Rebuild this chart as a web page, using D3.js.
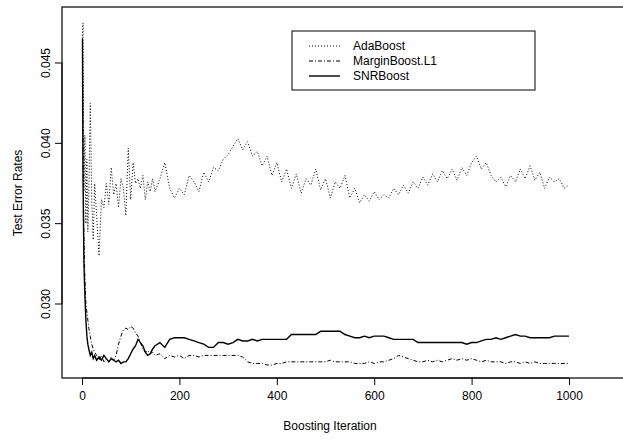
<!DOCTYPE html>
<html><head><meta charset="utf-8">
<script src="https://cdn.jsdelivr.net/npm/d3@7"></script>
<style>body{margin:0;background:#fff}text{font-family:"Liberation Sans",Arial,sans-serif}</style>
</head><body>
<svg id="chart" width="623" height="441"></svg>
<script>
var iters = [1,2,4,6,8,10,12,14,17,20,23,26,30]
  .concat(d3.range(35, 151, 5))
  .concat(d3.range(160, 1001, 10));

var adaboost = [0.0465,0.0475,0.037,0.0405,0.035,0.039,0.0345,0.037,0.0425,0.0365,0.034,0.0375,0.0355,
  0.033,0.0365,0.036,0.0375,0.0362,0.0385,0.0368,0.0375,0.0360,0.0378,0.0372,0.0355,0.0397,0.0365,0.0388,0.0375,0.0378,0.0372,0.0380,0.0365,0.0376,0.0370,0.0378,0.0370,
  0.0378,0.0388,0.0372,0.0366,0.0372,0.0368,0.0380,0.0376,0.0370,0.0382,0.0376,0.0385,0.0383,0.0390,0.0393,0.0398,0.0403,0.0396,0.0401,0.0392,
  0.0395,0.0386,0.0392,0.0380,0.0388,0.0376,0.0384,0.0372,0.0381,0.0369,0.0378,0.0374,0.0384,0.0371,0.0378,0.0366,0.0376,0.0372,0.0380,0.0366,
  0.0372,0.0363,0.0368,0.0364,0.0370,0.0365,0.0368,0.0366,0.0372,0.0368,0.0374,0.0369,0.0376,0.0372,0.0379,0.0374,0.0381,0.0376,0.0383,0.0378,
  0.0384,0.0377,0.0385,0.0380,0.0388,0.0392,0.0384,0.0388,0.0380,0.0376,0.0379,0.0373,0.0380,0.0376,0.0384,0.0378,0.0386,0.0377,0.0382,0.0372,
  0.0379,0.0376,0.0378,0.0372,0.0374];

var marginboost = [0.0465,0.040,0.034,0.0315,0.030,0.0295,0.029,0.0285,0.0280,0.0275,0.0272,0.0270,0.0268,
  0.0265,0.0268,0.0264,0.0266,0.0264,0.0267,0.0265,0.0268,0.0275,0.0280,0.0284,0.0285,0.0284,0.0286,0.0285,0.0282,0.0280,0.0276,0.0272,0.0270,0.0271,0.0269,0.0270,0.0268,
  0.0269,0.0266,0.0268,0.0267,0.0268,0.0266,0.0268,
  0.0268,0.0267,0.0268,0.0268,0.0268,0.0268,0.0268,0.0268,0.0268,0.0268,0.0267,
  0.0264,
  0.0263,0.0263,0.0263,0.0262,0.0262,0.0263,0.0263,0.0264,0.0264,0.0264,0.0264,0.0264,0.0264,0.0264,0.0264,0.0264,0.0265,0.0264,0.0264,0.0264,0.0264,0.0263,0.0263,0.0263,0.0264,0.0263,0.0264,0.0264,0.0265,
  0.0266,0.0268,0.0267,0.0266,0.0265,0.0264,0.0264,0.0265,0.0264,0.0265,0.0264,0.0265,0.0266,0.0265,0.0266,0.0265,0.0266,0.0265,0.0264,0.0265,0.0264,0.0264,0.0264,0.0263,0.0264,0.0264,0.0263,0.0264,0.0263,0.0264,0.0263,
  0.0263,0.0263,0.0263,0.0263,0.0263,0.0263];

var snrboost = [0.0465,0.038,0.0325,0.0305,0.029,0.0280,0.0275,0.0272,0.0268,0.0270,0.0266,0.0268,0.0265,
  0.0267,0.0265,0.0268,0.0266,0.0264,0.0266,0.0265,0.0264,0.0265,0.0263,0.0264,0.0264,0.0266,0.0269,0.0272,0.0274,0.0278,0.0276,0.0274,0.0270,0.0268,0.0269,0.0272,0.0274,
  0.0276,0.0273,0.0278,0.0279,0.0279,0.0279,0.0278,0.0277,0.0276,0.0275,0.0273,0.0273,0.0276,0.0276,0.0275,0.0276,0.0278,0.0277,0.0277,0.0278,
  0.0277,0.0278,0.0278,0.0278,0.0278,0.0278,0.0278,0.0281,0.0281,0.0281,0.0281,0.0281,0.0281,0.0283,0.0283,0.0283,0.0283,0.0283,0.0281,0.0280,
  0.0279,0.0279,0.0280,0.0279,0.0280,0.0280,0.0280,0.0279,0.0278,0.0278,0.0278,0.0278,0.0278,0.0276,0.0276,0.0276,0.0276,0.0276,0.0276,0.0276,
  0.0276,0.0276,0.0276,0.0275,0.0276,0.0276,0.0277,0.0278,0.0278,0.0279,0.0278,0.0279,0.0280,0.0281,0.0280,0.0280,0.0279,0.0279,0.0279,0.0279,
  0.0279,0.0280,0.0280,0.0280,0.0280];

var xTicks = [0,200,400,600,800,1000];
var yTicks = [0.030,0.035,0.040,0.045];

var series = [
  {name: "AdaBoost", values: adaboost, dash: "1,2", width: 1},
  {name: "MarginBoost.L1", values: marginboost, dash: "4,2,1,2", width: 1},
  {name: "SNRBoost", values: snrboost, dash: null, width: 1.4}
];

var svg = d3.select("#chart");
var x = d3.scaleLinear().domain([0, 1000]).range([82, 569]);
var y = d3.scaleLinear().domain([0.030, 0.045]).range([304, 63]);

// plot frame
svg.append("rect").attr("x", 62).attr("y", 7).attr("width", 570).attr("height", 371)
  .attr("fill", "none").attr("stroke", "#000").attr("stroke-width", 1.2);

var xa = svg.append("g").attr("transform", "translate(0,378)")
  .call(d3.axisBottom(x).tickValues(xTicks).tickSize(7).tickPadding(6).tickFormat(d3.format("d")));
xa.select(".domain").attr("d", "M" + x(0) + ",0H" + x(1000));
xa.selectAll("text").attr("font-size", 12);

var ya = svg.append("g").attr("transform", "translate(62,0)")
  .call(d3.axisLeft(y).tickValues(yTicks).tickSize(7).tickFormat(d3.format(".3f")));
ya.select(".domain").attr("d", "M0," + y(0.030) + "V" + y(0.045));
ya.selectAll("text").attr("font-size", 12).attr("text-anchor", "middle")
  .attr("transform", "rotate(-90)").attr("x", 0).attr("dy", 0)
  .attr("y", -12).each(function (d) { d3.select(this).attr("x", -y(d)).attr("dy", 0); });
ya.selectAll(".tick").attr("transform", "translate(0,0)");
ya.selectAll(".tick line").attr("y1", function (d) { return y(d); }).attr("y2", function (d) { return y(d); });

svg.append("text").attr("x", 330).attr("y", 430).attr("text-anchor", "middle")
  .attr("font-size", 12).text("Boosting Iteration");
svg.append("text").attr("transform", "translate(22,193) rotate(-90)").attr("text-anchor", "middle")
  .attr("font-size", 12).text("Test Error Rates");

var line = d3.line().x(function (d) { return x(d[0]); }).y(function (d) { return y(d[1]); });
series.forEach(function (s) {
  svg.append("path").datum(d3.zip(iters, s.values))
    .attr("d", line).attr("fill", "none").attr("stroke", "#000")
    .attr("stroke-width", s.width).attr("stroke-dasharray", s.dash);
});

// legend
var lg = svg.append("g");
lg.append("rect").attr("x", 292).attr("y", 31).attr("width", 243).attr("height", 59)
  .attr("fill", "#fff").attr("stroke", "#000");
series.forEach(function (s, i) {
  var yy = 46 + i * 15;
  lg.append("line").attr("x1", 309).attr("x2", 340).attr("y1", yy).attr("y2", yy)
    .attr("stroke", "#000").attr("stroke-width", s.width).attr("stroke-dasharray", s.dash);
  lg.append("text").attr("x", 353).attr("y", yy + 4).attr("font-size", 12).text(s.name);
});
</script>
</body></html>
